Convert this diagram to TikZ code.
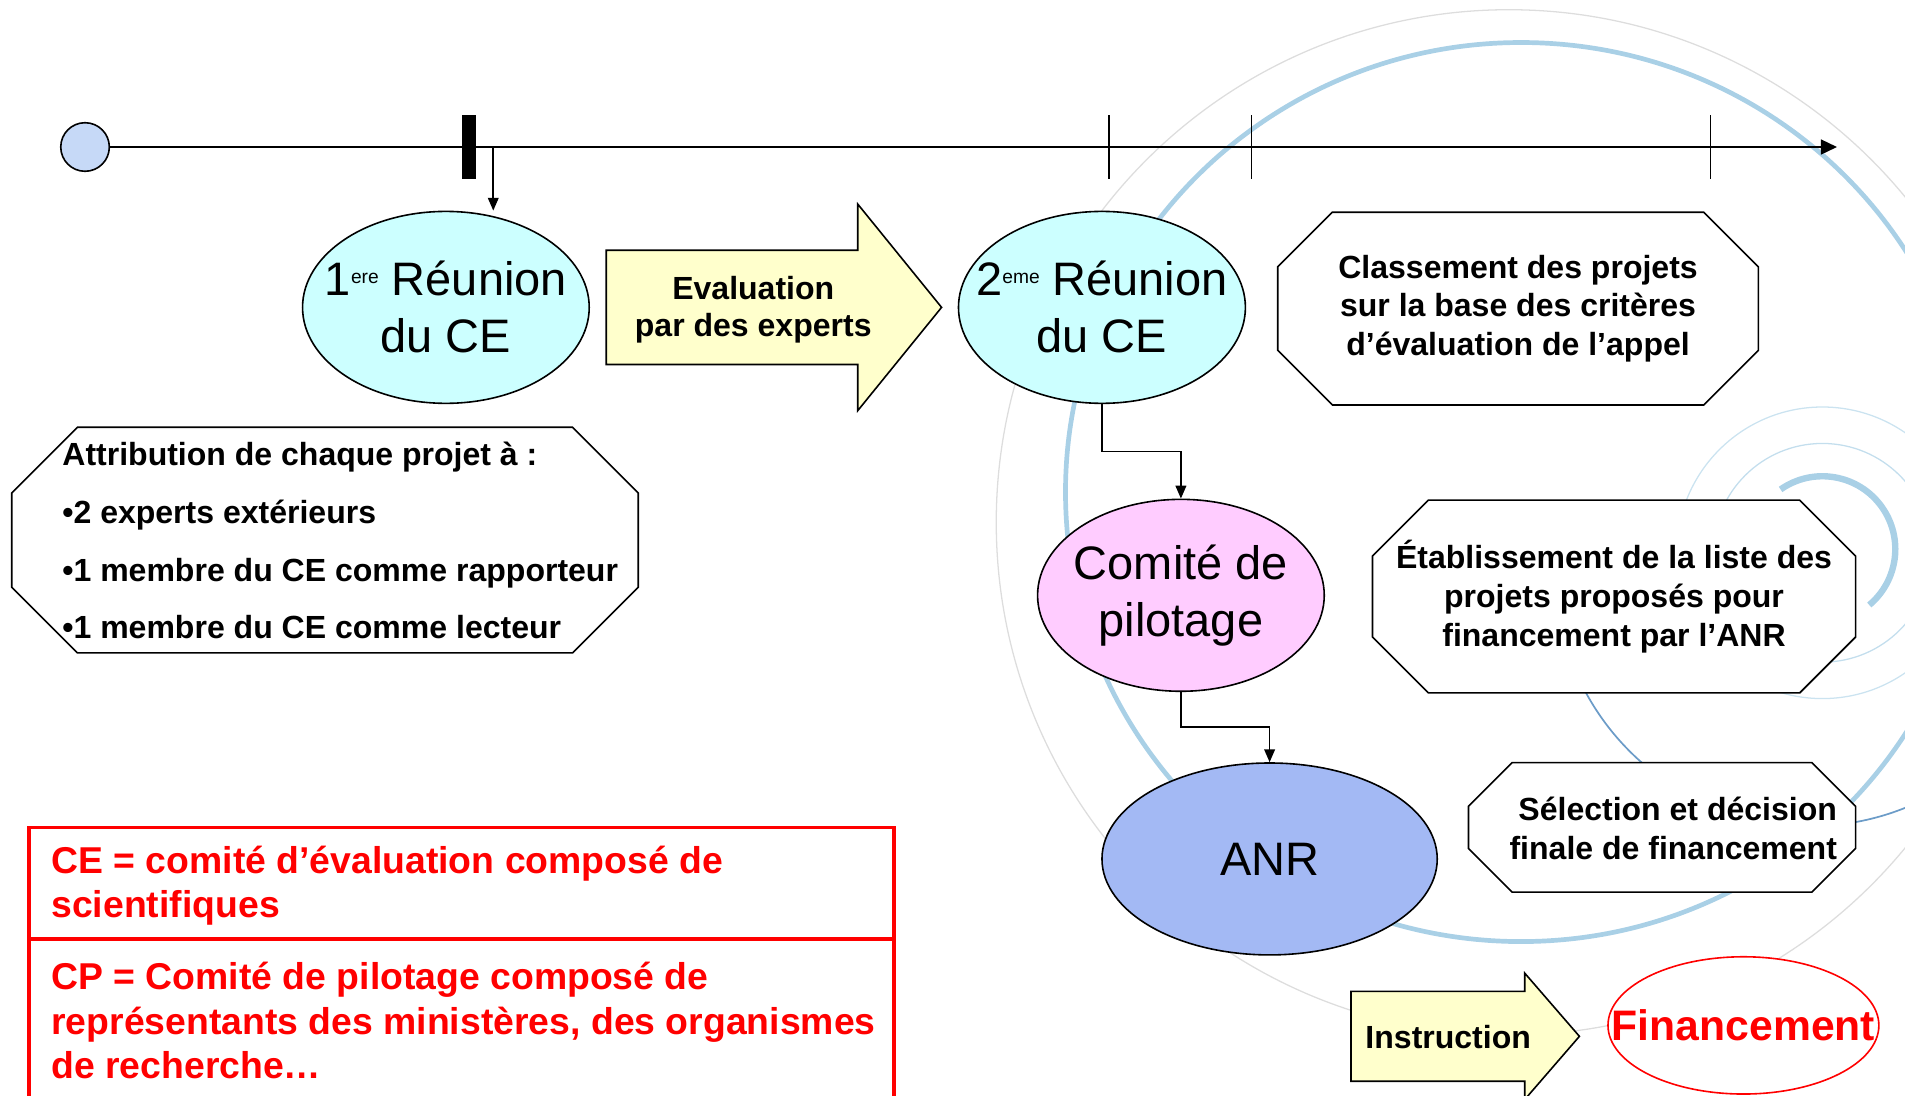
\documentclass[tikz,border=0pt]{standalone}
\usepackage{fontspec}
\setmainfont{Liberation Sans}
\usetikzlibrary{arrows.meta, positioning, shapes.geometric, calc}
\pgfdeclarelayer{back}
\pgfsetlayers{back,main}

\definecolor{ceCyan}{HTML}{CCFFFF}
\definecolor{cpPink}{HTML}{FFCCFF}
\definecolor{anrBlue}{HTML}{A3B9F4}
\definecolor{startBlue}{HTML}{C6D9F7}
\definecolor{paleYellow}{HTML}{FFFFCC}
\definecolor{noteRed}{HTML}{FF0000}
\definecolor{swirlBlue}{HTML}{A9D0E6}
\definecolor{swirlDark}{HTML}{6C9CC8}
\definecolor{swirlGray}{HTML}{DDDDDD}

\begin{document}
\begin{tikzpicture}[
    x=0.02cm, y=-0.02cm,
    >={Triangle[length=6pt,width=5pt]},
    stage/.style={ellipse, draw=black, line width=0.75pt, inner ysep=0pt, inner xsep=-0.4cm, align=center, minimum width=4.72cm, minimum height=3.16cm, font=\fontsize{22}{26.7}\selectfont},
    octa/.style={inner sep=0pt, align=center, font=\bfseries\fontsize{15}{18.2}\selectfont},
    frame/.style={draw=black, fill=white, line width=0.75pt},
    flow/.style={draw=black, fill=paleYellow, line width=0.75pt},
    note/.style={anchor=west, align=left, inner sep=0pt, text=noteRed, font=\bfseries\fontsize{17.5}{20.7}\selectfont}
  ]
  \useasboundingbox (0,0) rectangle (1568,902);

  % background swirl
  \begin{pgfonlayer}{back}
    \begin{scope}
      \clip (0,0) rectangle (1568,902);
      \draw[swirlGray, line width=0.6pt] (1242,430) circle (422);
      \draw[swirlBlue, line width=2.2pt] (1252,405) ellipse (375 and 370);
      \draw[swirlDark, line width=0.8pt] (1490,470) ++(175:210) arc[start angle=175, end angle=30, radius=210];
      \draw[swirlBlue, line width=3pt] (1500,452) ++(235:60) arc[start angle=235, end angle=410, radius=60];
      \draw[swirlBlue!70, line width=0.6pt] (1500,455) circle (90);
      \draw[swirlBlue!60, line width=0.6pt] (1500,455) circle (120);
    \end{scope}
  \end{pgfonlayer}

  % timeline
  \node[circle, draw=black, fill=startBlue, line width=0.75pt, minimum size=0.8cm, inner sep=0pt] (start) at (70,121) {};
  \coordinate (tlend) at (1512,121);
  \draw[->, >={Triangle[length=7.5pt,width=7pt]}, line width=0.75pt] (start) -- (tlend);
  \fill (380,95) rectangle (392,147);
  \foreach \x in {913,1030,1408}
    \draw[line width=0.75pt] (\x,95) -- (\x,147);
  \coordinate (kick) at (406,121);

  % stages
  \node[stage, fill=ceCyan] (meet1) at (367,253) {1\raisebox{6pt}{\fontsize{9}{9}\selectfont ere} Réunion\\du CE};
  \node[stage, fill=ceCyan] (meet2) at (907,253) {2\raisebox{6pt}{\fontsize{9}{9}\selectfont eme} Réunion\\du CE};
  \node[stage, fill=cpPink] (pilot) at (972,490) {Comité de\\pilotage};
  \node[stage, fill=anrBlue, minimum width=5.52cm] (anr) at (1045,707) {ANR};
  \node[stage, draw=noteRed, fill=white, inner xsep=-0.6cm, minimum width=4.46cm, minimum height=2.26cm, text=noteRed, font=\bfseries\fontsize{20}{24}\selectfont] (fund) at (1435,844) {Financement};

  % octagon boxes
  \node[octa, minimum width=7.9cm, minimum height=3.16cm] (rank) at (1249.5,254) {Classement des projets\\sur la base des critères\\d’évaluation de l’appel};
  \node[octa, minimum width=10.3cm, minimum height=3.7cm] (assign) at (267.5,444.5) {};
  \node[octa, align=left, anchor=west, font=\bfseries\fontsize{15}{27}\selectfont] (assigntext) at (51,445) {Attribution de chaque projet à :\\•2 experts extérieurs\\•1 membre du CE comme rapporteur\\•1 membre du CE comme lecteur};
  \node[octa, minimum width=7.94cm, minimum height=3.16cm] (list) at (1328.5,491) {Établissement de la liste des\\projets proposés pour\\financement par l’ANR};
  \node[octa, minimum width=6.36cm, minimum height=2.12cm] (select) at (1368,681) {};
  \node[octa, align=right, anchor=east] (selecttext) at ($(select.east)+(-15,1)$) {Sélection et décision\\finale de financement};

  % flow arrows
  \node[octa, font=\bfseries\fontsize{15}{17.6}\selectfont] (eval) at (620,255) {Evaluation\\par des experts};
  \node[octa] (instr) at (1192,854) {Instruction};

  \begin{pgfonlayer}{back}
    \foreach \n/\c in {rank/45, assign/54, list/46, select/36}
      \draw[frame] ($(\n.north west)+(\c,0)$) -- ($(\n.north east)+(-\c,0)$) -- ($(\n.north east)+(0,\c)$) -- ($(\n.south east)+(0,-\c)$) -- ($(\n.south east)+(-\c,0)$) -- ($(\n.south west)+(\c,0)$) -- ($(\n.south west)+(0,-\c)$) -- ($(\n.north west)+(0,\c)$) -- cycle;
    \draw[flow] (499,206) -- (706,206) -- (706,168) -- (775,253) -- (706,338) -- (706,300) -- (499,300) -- cycle;
    \draw[flow] (1112,816) -- (1255,816) -- (1255,801) -- (1300,853) -- (1255,905) -- (1255,890) -- (1112,890) -- cycle;
  \end{pgfonlayer}

  % connectors
  \draw[->, line width=0.75pt] (kick) -- (kick |- meet1.north);
  \draw[->, line width=0.75pt] (meet2.south) |- ($(meet2.south)!.5!(pilot.north)$) -| (pilot.north);
  \draw[->, line width=0.75pt] (pilot.south) |- ($(pilot.south)!.5!(anr.north)$) -| (anr.north);

  % legend
  \draw[noteRed, line width=1.7pt] (24,902) |- (736,681) -- (736,902);
  \draw[noteRed, line width=1.7pt] (24,773) -- (736,773);
  \node[note] (ce) at (42,729) {CE = comité d’évaluation composé de\\scientifiques};
  \node[note] (cp) at (42,840) {CP = Comité de pilotage composé de\\représentants des ministères, des organismes\\de recherche…};
\end{tikzpicture}
\end{document}
